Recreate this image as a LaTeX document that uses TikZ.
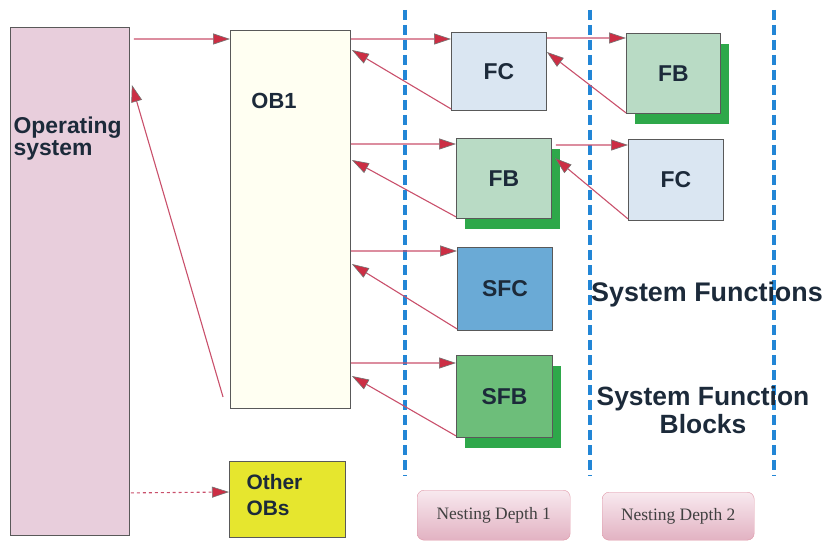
\documentclass[tikz,border=0pt]{standalone}
\usepackage{fontspec}
\setmainfont{Liberation Sans}
\newfontfamily\serifnest{Liberation Serif}
\usetikzlibrary{arrows.meta,shadows}

\definecolor{ospink}{HTML}{E8CEDC}
\definecolor{obyellow}{HTML}{FFFFF2}
\definecolor{otheryellow}{HTML}{E6E62E}
\definecolor{fcblue}{HTML}{DAE6F2}
\definecolor{fbgreen}{HTML}{B9DBC5}
\definecolor{sfcblue}{HTML}{6AAAD6}
\definecolor{sfbgreen}{HTML}{6DBE7A}
\definecolor{shgreen}{HTML}{2EA84A}
\definecolor{callred}{HTML}{C9506B}
\definecolor{tipred}{HTML}{CC2E44}
\definecolor{sepblue}{HTML}{2286D6}
\definecolor{inkdark}{HTML}{1C2A3A}
\definecolor{nesttop}{HTML}{F8E9EF}
\definecolor{nestbot}{HTML}{E2B2C2}

\tikzset{
  blk/.style={draw=black!65,line width=0.9bp,inner sep=0pt,anchor=north west,
    text=inkdark,font=\bfseries\fontsize{23}{25}\selectfont},
  greenshadow/.style={drop shadow={shadow xshift=9bp,shadow yshift=-11bp,
    fill=shgreen,opacity=1}},
  call/.style={draw=callred,line width=1.1bp,
    -{Triangle[length=17bp,width=11bp,color=black!55,fill=tipred,line width=0.6bp]}},
  nest/.style={draw=callred!60,rounded corners=7bp,top color=nesttop,
    bottom color=nestbot,anchor=north west,inner sep=0pt,
    font=\serifnest\fontsize{17.5}{19}\selectfont,text=black!75},
  sep/.style={draw=sepblue,line width=3.5bp,dash pattern=on 10bp off 5bp}
}

\begin{document}
\begin{tikzpicture}[x=1bp,y=-1bp]
\useasboundingbox (0,0) rectangle (823,542);

% main blocks
\node[blk,fill=ospink,minimum width=119bp,minimum height=508bp] (os) at (10,27) {};
\node[blk,fill=obyellow,minimum width=120bp,minimum height=378bp] (ob1) at (230,30) {};
\node[blk,fill=otheryellow,minimum width=116bp,minimum height=76bp] (oth) at (229,461) {};
\node[anchor=north west,align=left,text=inkdark,font=\bfseries\fontsize{23}{22}\selectfont] at (10,113) {Operating\\system};
\node[text=inkdark,font=\bfseries\fontsize{22}{24}\selectfont] at (274,101) {OB1};
\node[anchor=west,align=left,text=inkdark,font=\bfseries\fontsize{21}{26}\selectfont] at (243,495) {Other\\OBs};

% nesting depth 1
\node[blk,fill=fcblue,minimum width=95bp,minimum height=78bp] (fc1) at (451,32) {FC};
\node[blk,fill=fbgreen,greenshadow,minimum width=95bp,minimum height=80bp] (fb1) at (456,138) {FB};
\node[blk,fill=sfcblue,minimum width=95bp,minimum height=83bp] (sfc) at (457,247) {SFC};
\node[blk,fill=sfbgreen,greenshadow,minimum width=96bp,minimum height=82bp] (sfb) at (456,355) {SFB};

% nesting depth 2
\node[blk,fill=fbgreen,greenshadow,minimum width=94bp,minimum height=80bp] (fb2) at (626,33) {FB};
\node[blk,fill=fcblue,minimum width=95bp,minimum height=81bp] (fc2) at (628,139) {FC};

% separators
\foreach \sx in {405,590,774}
  \draw[sep] (\sx,10) -- (\sx,476);

\node[text=inkdark,font=\bfseries\fontsize{27}{29}\selectfont] (sysf) at (707,295) {System Functions};
\node[align=center,text=inkdark,font=\bfseries\fontsize{26.5}{28}\selectfont] (sysfb) at (703,410) {System Function\\Blocks};

\node[nest,minimum width=153bp,minimum height=50bp] (nd1) at (417,490) {Nesting Depth 1};
\node[nest,minimum width=152bp,minimum height=48bp] (nd2) at (602,492) {Nesting Depth 2};

% calls
\draw[call] ([xshift=4bp,yshift=-12bp]os.north east) -- ([yshift=-9bp]ob1.north west);
\draw[call] ([yshift=-9bp]ob1.north east) -- ([yshift=-7bp]fc1.north west);
\draw[call] ([yshift=-114bp]ob1.north east) -- ([yshift=-6bp]fb1.north west);
\draw[call] ([yshift=-221bp]ob1.north east) -- ([yshift=-4bp]sfc.north west);
\draw[call] ([yshift=-333bp]ob1.north east) -- ([yshift=-8bp]sfb.north west);
\draw[call] ([yshift=-6bp]fc1.north east) -- ([yshift=-5bp]fb2.north west);
\draw[call] ([xshift=4bp,yshift=-7bp]fb1.north east) -- ([yshift=-6bp]fc2.north west);
\draw[call,dashed] ([xshift=1bp,yshift=43bp]os.south east) -- ([yshift=-31bp]oth.north west);

% returns
\draw[call] ([yshift=2bp]fc1.south west) -- ([xshift=1bp,yshift=-20bp]ob1.north east);
\draw[call] ([yshift=2bp]fb1.south west) -- ([xshift=1bp,yshift=-130bp]ob1.north east);
\draw[call] ([yshift=2bp]sfc.south west) -- ([xshift=1bp,yshift=-234bp]ob1.north east);
\draw[call] ([yshift=2bp]sfb.south west) -- ([xshift=1bp,yshift=-346bp]ob1.north east);
\draw[call] ([xshift=-7bp,yshift=12bp]ob1.south west) -- ([xshift=2bp,yshift=-58bp]os.north east);
\draw[call] ([yshift=1bp]fb2.south west) -- ([yshift=-20bp]fc1.north east);
\draw[call] ([yshift=2bp]fc2.south west) -- ([xshift=3bp,yshift=-20bp]fb1.north east);
\end{tikzpicture}
\end{document}
